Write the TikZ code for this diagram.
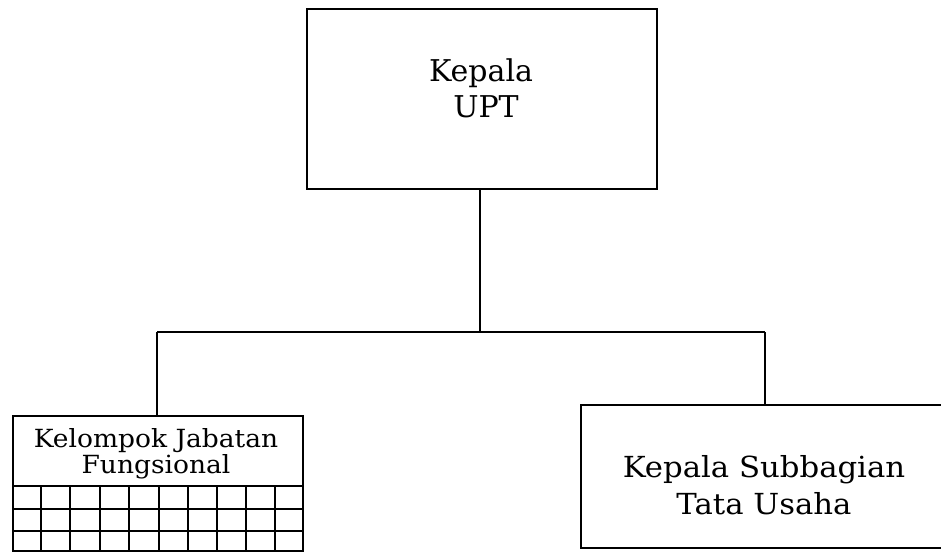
\documentclass[tikz,border=0pt]{standalone}
\usepackage{fontspec}
\setmainfont{DejaVu Serif}
\newfontfamily\widefont[FakeStretch=1.06]{DejaVu Serif}
\begin{document}
\begin{tikzpicture}[x=1pt,y=-1pt,
  box/.style={draw=black,line width=2.4pt,rectangle,inner sep=0pt,anchor=north west},
  conn/.style={draw=black,line width=2.4pt},
  txt/.style={inner sep=0pt,align=center,anchor=center}]
\useasboundingbox (0,0) rectangle (941,551);
\clip (0,0) rectangle (941,551);
% boxes
\node[box,minimum width=350pt,minimum height=180pt] (top) at (306,8) {};
\node[box,minimum width=290pt,minimum height=135pt] (lbox) at (12,415) {};
\node[box,minimum width=380pt,minimum height=143pt] (rbox) at (580,404) {};
% grid in left box
\foreach \yy in {486,509,531}{
  \draw[conn] (lbox.west |- 0,\yy) -- (lbox.east |- 0,\yy);
}
\foreach \xx in {41,70,100,129,159,188,217,246,275}{
  \draw[conn] (\xx,486) -- (\xx,550);
}
% texts
\node[txt,font=\fontsize{30}{36}\selectfont] (toptext) at (481,88.6) {Kepala\\\hspace*{10pt}UPT};
\node[txt,font=\widefont\fontsize{25}{26}\selectfont] (ltext) at (156,453.3) {Kelompok Jabatan\\Fungsional};
\node[txt,font=\widefont\fontsize{29}{37}\selectfont] (rtext) at (764,484.7) {Kepala Subbagian\\Tata Usaha};
% connectors
\coordinate (j) at (480,332);
\coordinate (rj) at (765,332);
\coordinate (ltop) at (157,415);
\coordinate (rtop) at (765,404);
\draw[conn] (top.south -| j) -- (j);
\draw[conn] (ltop |- j) -- (rj);
\draw[conn] (ltop |- j) -- (ltop);
\draw[conn] (rj) -- (rtop);
\end{tikzpicture}
\end{document}
